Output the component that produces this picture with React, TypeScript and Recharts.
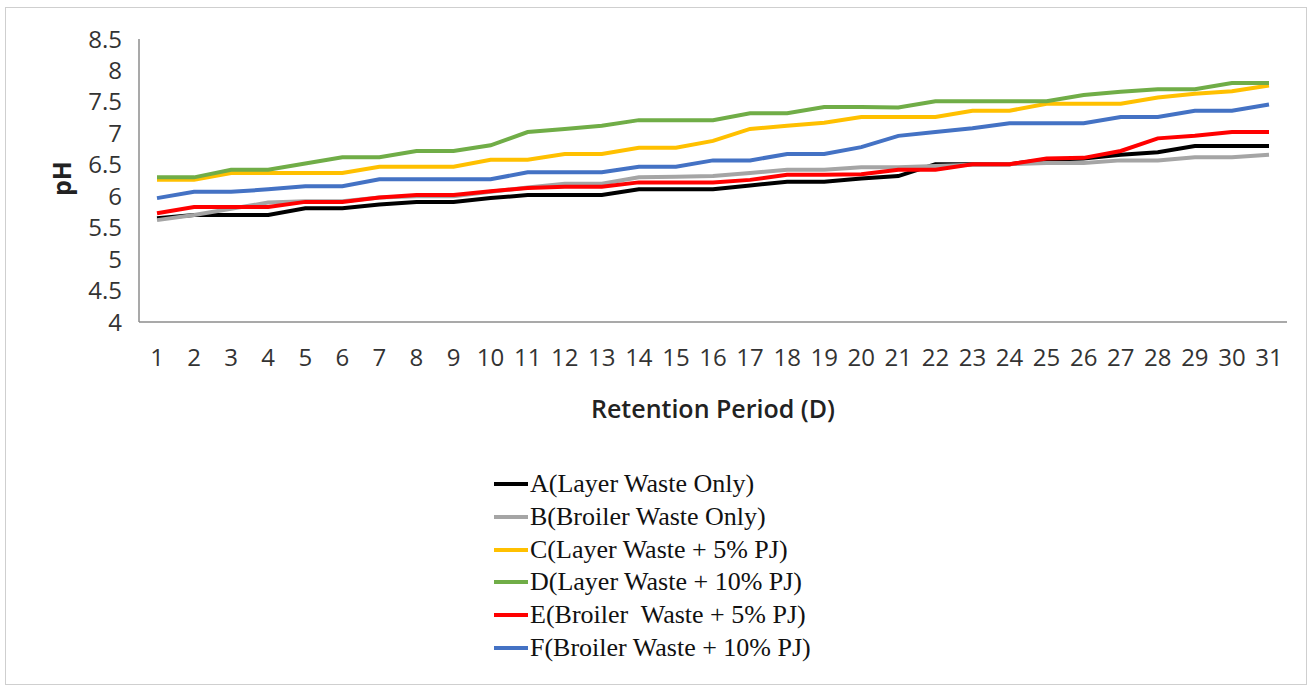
import React from 'react';
import { LineChart, Line, XAxis, YAxis, Legend } from 'recharts';

const days = [
  '1', '2', '3', '4', '5', '6', '7', '8', '9', '10', '11', '12', '13', '14', '15', '16',
  '17', '18', '19', '20', '21', '22', '23', '24', '25', '26', '27', '28', '29', '30', '31',
];

const layerOnly = [
  5.65, 5.7, 5.7, 5.7, 5.81, 5.81, 5.87, 5.91, 5.91, 5.97, 6.02, 6.02, 6.02, 6.11, 6.11, 6.11,
  6.17, 6.23, 6.23, 6.28, 6.32, 6.51, 6.51, 6.51, 6.58, 6.6, 6.66, 6.7, 6.8, 6.8, 6.8,
];
const broilerOnly = [
  5.62, 5.7, 5.8, 5.9, 5.92, 5.92, 5.98, 6.0, 6.0, 6.07, 6.14, 6.2, 6.2, 6.3, 6.31, 6.32,
  6.37, 6.42, 6.42, 6.46, 6.46, 6.48, 6.5, 6.51, 6.53, 6.53, 6.57, 6.57, 6.62, 6.62, 6.66,
];
const layer5 = [
  6.26, 6.26, 6.37, 6.37, 6.37, 6.37, 6.47, 6.47, 6.47, 6.58, 6.58, 6.67, 6.67, 6.77, 6.77, 6.88,
  7.07, 7.12, 7.17, 7.26, 7.26, 7.26, 7.36, 7.36, 7.47, 7.47, 7.47, 7.57, 7.63, 7.67, 7.76,
];
const layer10 = [
  6.3, 6.3, 6.42, 6.42, 6.52, 6.62, 6.62, 6.72, 6.72, 6.81, 7.02, 7.07, 7.12, 7.21, 7.21, 7.21,
  7.32, 7.32, 7.42, 7.42, 7.41, 7.51, 7.51, 7.51, 7.51, 7.61, 7.66, 7.7, 7.7, 7.8, 7.8,
];
const broiler5 = [
  5.73, 5.83, 5.83, 5.83, 5.91, 5.91, 5.98, 6.02, 6.02, 6.08, 6.13, 6.15, 6.15, 6.22, 6.22, 6.22,
  6.26, 6.34, 6.34, 6.35, 6.42, 6.42, 6.51, 6.51, 6.6, 6.61, 6.72, 6.92, 6.96, 7.02, 7.02,
];
const broiler10 = [
  5.97, 6.07, 6.07, 6.11, 6.16, 6.16, 6.27, 6.27, 6.27, 6.27, 6.38, 6.38, 6.38, 6.47, 6.47, 6.57,
  6.57, 6.67, 6.67, 6.78, 6.96, 7.02, 7.08, 7.16, 7.16, 7.16, 7.26, 7.26, 7.36, 7.36, 7.46,
];

const yTicks = [4, 4.5, 5, 5.5, 6, 6.5, 7, 7.5, 8, 8.5];

const series = [
  { key: 'A', name: 'A(Layer Waste Only)', color: '#000000', values: layerOnly },
  { key: 'B', name: 'B(Broiler Waste Only)', color: '#a5a5a5', values: broilerOnly },
  { key: 'C', name: 'C(Layer Waste + 5% PJ)', color: '#ffc000', values: layer5 },
  { key: 'D', name: 'D(Layer Waste + 10% PJ)', color: '#70ad47', values: layer10 },
  { key: 'E', name: 'E(Broiler  Waste + 5% PJ)', color: '#ff0000', values: broiler5 },
  { key: 'F', name: 'F(Broiler Waste + 10% PJ)', color: '#4472c4', values: broiler10 },
];

const chartData = days.map((d, i) => {
  const row: Record<string, string | number> = { day: d };
  series.forEach(s => {
    row[s.key] = s.values[i];
  });
  return row;
});

const font = '"Open Sans", sans-serif';

const YTitle = (props: any) => {
  const vb = props.viewBox || {};
  const cx = 61;
  const cy = vb.y + vb.height / 2 - 2;
  return (
    <text
      x={cx}
      y={cy}
      transform={`rotate(-90, ${cx}, ${cy})`}
      textAnchor="middle"
      dominantBaseline="central"
      fontFamily={font}
      fontWeight={700}
      fontSize={25}
      fill="#222"
    >
      pH
    </text>
  );
};

const LegendBox = () => (
  <div style={{ fontFamily: '"Liberation Serif", "Times New Roman", serif', fontSize: 26, color: '#111' }}>
    {series.map(s => (
      <div key={s.key} style={{ display: 'flex', alignItems: 'center', height: 32.7, whiteSpace: 'pre' }}>
        <span style={{ display: 'inline-block', width: 34, height: 4, background: s.color, marginRight: 2 }} />
        <span>{s.name}</span>
      </div>
    ))}
  </div>
);

const App: React.FC = () => {
  return (
    <div style={{ position: 'absolute', left: 0, top: 0, width: 1313, height: 691, background: '#fff' }}>
      <div
        style={{
          position: 'absolute',
          left: 5,
          top: 7,
          width: 1302,
          height: 678,
          border: '1px solid #cfcfcf',
          boxSizing: 'border-box',
        }}
      />
      <LineChart
        width={1313}
        height={691}
        data={chartData}
        margin={{ top: 39, right: 26, bottom: 269, left: 0 }}
        style={{ position: 'absolute', left: 0, top: 0 }}
      >
        <XAxis
          dataKey="day"
          xAxisId="bottom"
          height={100}
          padding={{ left: 18, right: 18 }}
          tickLine={false}
          axisLine={{ stroke: '#8c8c8c', strokeWidth: 1.5 }}
          tickMargin={21}
          interval={0}
          tick={{ fontFamily: font, fontSize: 24, fill: '#333' }}
          label={{
            value: 'Retention Period (D)',
            position: 'insideBottom',
            offset: 4,
            style: { fontFamily: font, fontSize: 25, fontWeight: 600, fill: '#222' },
          }}
        />
        <XAxis dataKey="day" xAxisId="top" orientation="top" height={0} tick={false} tickLine={false} axisLine={{ stroke: '#c8c8c8', strokeWidth: 1 }} />
        <YAxis
          yAxisId="left"
          width={139}
          domain={[4, 8.5]}
          ticks={yTicks}
          interval={0}
          tickLine={false}
          axisLine={{ stroke: '#8c8c8c', strokeWidth: 1.5 }}
          tickMargin={11}
          tick={{ fontFamily: font, fontSize: 24, fill: '#333' }}
          label={{ content: YTitle }}
        />
        <YAxis yAxisId="right" orientation="right" width={0} domain={[4, 8.5]} tick={false} tickLine={false} axisLine={{ stroke: '#c8c8c8', strokeWidth: 1 }} />
        <Legend
          layout="vertical"
          align="center"
          verticalAlign="middle"
          content={() => <LegendBox />}
          wrapperStyle={{ left: 494, top: 468, width: 420 }}
        />
        {series.map(s => (
          <Line
            key={s.key}
            xAxisId="bottom"
            yAxisId="left"
            type="linear"
            dataKey={s.key}
            name={s.name}
            stroke={s.color}
            strokeWidth={4}
            dot={false}
            activeDot={false}
            isAnimationActive={false}
          />
        ))}
      </LineChart>
    </div>
  );
};

export default App;
